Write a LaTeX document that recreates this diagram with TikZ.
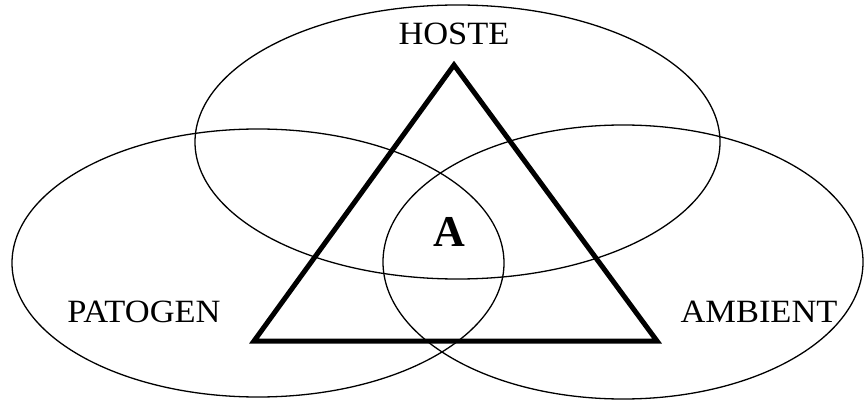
\documentclass[tikz,border=0pt]{standalone}
\usepackage{fontspec}
\setmainfont{Liberation Serif}
\newfontfamily\lblfont[FakeStretch=1.06]{Liberation Serif}
\usetikzlibrary{shapes.geometric}
\begin{document}
\begin{tikzpicture}[x=1pt,y=-1pt,
  ring/.style={draw, ellipse, line width=1.3pt, inner sep=0pt},
  lbl/.style={font=\lblfont\fontsize{32.5}{34}\selectfont, inner sep=0pt},
  tri/.style={line width=5pt, line join=miter}]
\useasboundingbox (0,0) rectangle (864,403);
\node[ring, minimum width=525pt, minimum height=274pt] (host) at (457.5,142) {};
\node[ring, minimum width=492pt, minimum height=268pt] (pat) at (258,263) {};
\node[ring, minimum width=480pt, minimum height=274pt] (amb) at (623,262) {};
\coordinate (apex) at (454,65);
\coordinate (bl) at (254,341);
\coordinate (br) at (657,341);
\draw[tri] (apex) -- (bl) -- (br) -- cycle;
\node[lbl] (thoste) at (454,34) {HOSTE};
\node[lbl] (tpat) at (144,312) {PATOGEN};
\node[lbl] (tamb) at (759,312) {AMBIENT};
\node[inner sep=0pt, font=\fontsize{44}{46}\selectfont\bfseries] (ta) at (449,232) {A};
\end{tikzpicture}
\end{document}
